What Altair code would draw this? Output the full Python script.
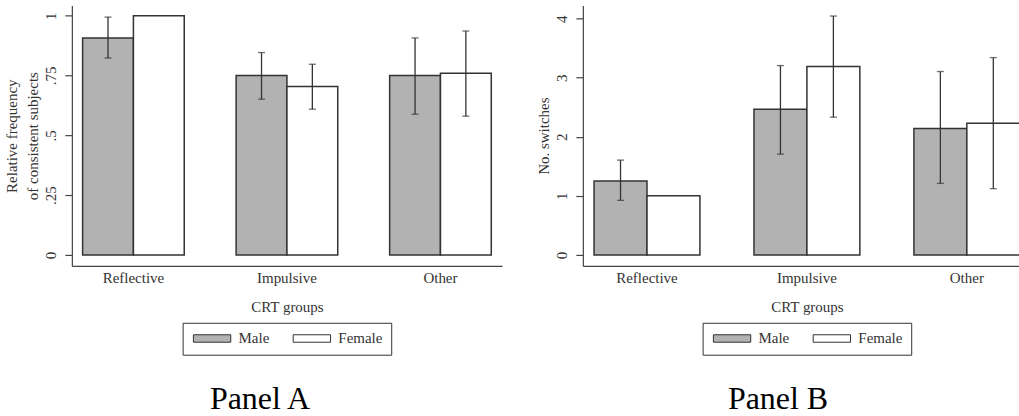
import altair as alt
import pandas as pd

groups = ["Reflective", "Impulsive", "Other"]
genders = ["Male", "Female"]
fills = ["#b2b2b2", "#ffffff"]

# Panel A: relative frequency of consistent subjects (mean, CI low, CI high)
cons_male = [0.907, 0.750, 0.750]
cons_male_lo = [0.823, 0.651, 0.588]
cons_male_hi = [0.994, 0.846, 0.907]
cons_female = [1.000, 0.704, 0.759]
cons_female_lo = [None, 0.609, 0.580]
cons_female_hi = [None, 0.797, 0.936]

# Panel B: number of switches (mean, CI low, CI high)
sw_male = [1.250, 2.467, 2.141]
sw_male_lo = [0.924, 1.707, 1.211]
sw_male_hi = [1.605, 3.206, 3.105]
sw_female = [1.000, 3.189, 2.230]
sw_female_lo = [None, 2.332, 1.121]
sw_female_hi = [None, 4.045, 3.341]

# y-axis ticks: labelled major ticks and unlabelled minor ticks
a_major = [0, 0.25, 0.5, 0.75, 1]
a_major_labels = ["0", ".25", ".5", ".75", "1"]
a_minor = [0.125, 0.375, 0.625, 0.875]
b_major = [0, 1, 2, 3, 4]
b_major_labels = ["0", "1", "2", "3", "4"]
b_minor = [0.5, 1.5, 2.5, 3.5]

INK = "#333333"
SERIF = "Liberation Serif"


def make_frame(male, male_lo, male_hi, female, female_lo, female_hi):
    rows = []
    for g, v, lo, hi in zip(groups, male, male_lo, male_hi):
        rows.append({"group": g, "gender": "Male", "value": v, "lo": lo, "hi": hi})
    for g, v, lo, hi in zip(groups, female, female_lo, female_hi):
        rows.append({"group": g, "gender": "Female", "value": v, "lo": lo, "hi": hi})
    return pd.DataFrame(rows)


def label_expr(values, labels):
    expr = "''"
    for v, t in reversed(list(zip(values, labels))):
        expr = f"datum.value == {v} ? '{t}' : ({expr})"
    return expr


def panel(df, width, domain, major, major_labels, minor, ytitle, ptitle, legend_x, title_dx):
    err_df = df.dropna(subset=["lo", "hi"])
    x = alt.X(
        "group:N", sort=groups, title="CRT groups",
        scale=alt.Scale(paddingInner=0.338, paddingOuter=0.07),
        axis=alt.Axis(ticks=False, labelAngle=0, labelPadding=5, titlePadding=14),
    )
    xo = alt.XOffset("gender:N", sort=genders, scale=alt.Scale(paddingInner=0, paddingOuter=0))
    yaxis = alt.Axis(
        values=sorted(major + minor),
        labelExpr=label_expr(major, major_labels),
        labelAngle=-90, labelAlign="center", labelBaseline="bottom",
        labelPadding=6,
        tickSize={"condition": {"test": "indexof(%s, datum.value) >= 0" % major, "value": 7}, "value": 3},
        titleLineHeight=21, titlePadding=3,
    )
    yscale = alt.Scale(domain=domain, nice=False, zero=False)

    # wide flat legend swatch: a small nominal symbol size keeps the legend rows short,
    # the path reaches beyond the unit box to draw the full-width swatch
    bars = alt.Chart(df).mark_bar(stroke=INK, strokeWidth=1.5).encode(
        x=x, xOffset=xo,
        y=alt.Y("value:Q", scale=yscale, axis=yaxis, title=ytitle),
        y2=alt.datum(0),
        color=alt.Color(
            "gender:N", sort=genders,
            scale=alt.Scale(domain=genders, range=fills),
            legend=alt.Legend(
                title=None, orient="none", legendX=legend_x, legendY=318,
                direction="horizontal",
                symbolType="M-5,-1H5V1H-5Z", symbolSize=56,
                symbolOffset=14, symbolStrokeColor=INK, symbolStrokeWidth=1,
                labelFont=SERIF, labelFontSize=15, labelColor=INK,
                labelOffset=19, columnPadding=21, padding=8,
                strokeColor=INK, fillColor="white",
            ),
        ),
    )
    whisker = alt.Chart(err_df).mark_rule(color=INK, strokeWidth=1.3).encode(
        x=x, xOffset=xo,
        y=alt.Y("lo:Q", scale=yscale, title=ytitle), y2="hi:Q",
    )
    cap_lo = alt.Chart(err_df).mark_tick(orient="horizontal", size=7, thickness=1.3, color=INK).encode(
        x=x, xOffset=xo, y=alt.Y("lo:Q", scale=yscale, title=ytitle),
    )
    cap_hi = alt.Chart(err_df).mark_tick(orient="horizontal", size=7, thickness=1.3, color=INK).encode(
        x=x, xOffset=xo, y=alt.Y("hi:Q", scale=yscale, title=ytitle),
    )
    return alt.layer(bars, whisker, cap_lo, cap_hi).properties(
        width=width, height=261,
        title=alt.TitleParams(
            text=ptitle, orient="bottom", anchor="middle", font=SERIF, fontSize=32,
            fontWeight="normal", color="black", offset=29, dx=title_dx,
        ),
    )


df_a = make_frame(cons_male, cons_male_lo, cons_male_hi, cons_female, cons_female_lo, cons_female_hi)
df_b = make_frame(sw_male, sw_male_lo, sw_male_hi, sw_female, sw_female_lo, sw_female_hi)

left = panel(df_a, 431, [-0.0459, 1.043], a_major, a_major_labels, a_minor,
             ["Relative frequency", "of consistent subjects"], "Panel A", 111, -27)
right = panel(df_b, 449, [-0.186, 4.225], b_major, b_major_labels, b_minor,
              "No. switches", "Panel B", 120, -29)

# the right panel runs a little past the page edge, as in the printed figure
chart = (
    alt.hconcat(left, right, spacing=34)
    .resolve_scale(x="independent", y="independent", color="independent", xOffset="independent")
    .resolve_legend(color="independent")
    .properties(padding={"left": 5, "top": 5, "right": -12, "bottom": 0})
    .configure_view(stroke=None)
    .configure_axis(
        labelFont=SERIF, titleFont=SERIF, labelFontSize=15, titleFontSize=15,
        titleFontWeight="normal", labelColor=INK, titleColor=INK,
        domainColor="#444444", tickColor="#444444", domainWidth=1.2, tickWidth=1.2,
        grid=False,
    )
)

chart.save("out.html", embed_options={"renderer": "svg", "actions": False})
